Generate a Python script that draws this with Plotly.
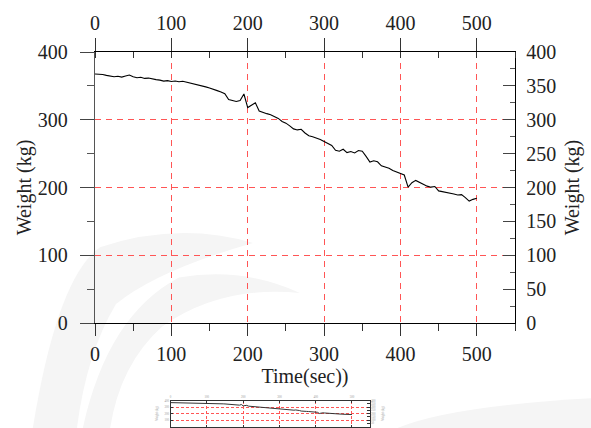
import plotly.graph_objects as go

# ---- data ----
time_s = list(range(0, 505, 5))
weight_kg = [
    367.5, 367.3, 366.8, 365.5, 364.8, 363.5, 364.2, 363.0, 364.5, 366.0,
    363.5, 362.0, 362.8, 361.0, 361.5, 360.0, 359.2, 358.5, 357.0, 357.8,
    356.5, 357.2, 356.0, 356.8, 355.5, 354.8, 353.0, 351.5, 350.0, 348.5,
    347.0, 345.5, 343.0, 341.0, 338.5, 330.0, 328.5, 327.0, 328.5, 338.0,
    318.0, 322.0, 325.0, 313.0, 310.5, 309.0, 307.5, 305.0, 302.0, 297.5,
    295.0, 291.0, 286.5, 285.0, 286.0, 280.5, 276.5, 275.0, 273.5, 271.0,
    268.0, 265.0, 262.0, 255.0, 253.5, 256.5, 251.5, 253.0, 251.0, 254.5,
    253.5, 246.0, 237.5, 239.5, 238.0, 232.0, 230.5, 228.5, 225.0, 223.0,
    221.0, 218.5, 200.5, 207.0, 210.5, 207.5, 204.5, 202.0, 200.5, 201.5,
    195.0, 194.0, 193.5, 191.5, 190.5, 189.0, 189.5, 185.0, 180.0, 182.5,
    184.0,
]
x_ticks = [0, 100, 200, 300, 400, 500]
left_ticks = [0, 100, 200, 300, 400]
right_ticks = [0, 50, 100, 150, 200, 250, 300, 350, 400]
x_title = "Time(sec))"
y_title = "Weight (kg)"

FONT = "Liberation Serif"
TXT = "#222222"
GRID = "#ff5555"
X_RANGE = [0, 550]
Y_RANGE = [0, 400]

fig = go.Figure()
fig.add_trace(go.Scatter(x=time_s, y=weight_kg, mode="lines",
                         line=dict(color="black", width=1.1),
                         xaxis="x", yaxis="y", showlegend=False, hoverinfo="skip"))
# invisible copy so the top / right axes are drawn
fig.add_trace(go.Scatter(x=time_s, y=weight_kg, mode="lines",
                         line=dict(color="rgba(0,0,0,0)", width=0),
                         xaxis="x2", yaxis="y2", showlegend=False, hoverinfo="skip"))
# small overview thumbnail below the chart
fig.add_trace(go.Scatter(x=time_s, y=weight_kg, mode="lines",
                         line=dict(color="#333333", width=1),
                         xaxis="x3", yaxis="y3", showlegend=False, hoverinfo="skip"))
fig.add_trace(go.Scatter(x=time_s, y=weight_kg, mode="lines",
                         line=dict(color="rgba(0,0,0,0)", width=0),
                         xaxis="x3", yaxis="y4", showlegend=False, hoverinfo="skip"))

main_dom = [105 / 376, 1]

# faint background watermark swooshes
wm = [
    "M -0.148,0 Q -0.09,0.40 0.012,0.481 Q 0.20,0.55 0.376,0.492 "
    "Q 0.15,0.42 0.05,0.33 Q -0.02,0.20 -0.043,0 Z",
    "M -0.029,0 Q 0.03,0.30 0.20,0.40 Q 0.35,0.43 0.488,0.359 "
    "Q 0.30,0.38 0.16,0.27 Q 0.06,0.17 0.036,0 Z",
    "M 0.72,0 Q 0.85,0.06 1.20,0.08 L 1.20,0 Z",
]
shapes = [dict(type="path", path=p, xref="paper", yref="paper",
               fillcolor="#f5f5f5", line=dict(width=0), layer="below")
          for p in wm]

fig.update_layout(
    width=591, height=428,
    margin=dict(l=95, r=76, t=52, b=0),
    paper_bgcolor="white", plot_bgcolor="rgba(0,0,0,0)",
    font=dict(family=FONT, size=20, color=TXT),
    shapes=shapes,
    xaxis=dict(domain=[0, 1], anchor="y", range=X_RANGE, tickvals=x_ticks,
               showgrid=True, gridcolor=GRID, griddash="6px,5px", gridwidth=1.3,
               zeroline=False, showline=True, linecolor="black", linewidth=1.3,
               ticks="outside", ticklen=12, tickcolor="#333", tickwidth=1.3,
               minor=dict(dtick=50, tick0=50, ticks="outside", ticklen=7,
                          tickcolor="#333", showgrid=False),
               tickfont=dict(size=20), ticklabelstandoff=1,
               title=dict(text=x_title, standoff=2, font=dict(size=20)),
               automargin=False),
    xaxis2=dict(overlaying="x", side="top", anchor="y", range=X_RANGE,
                tickvals=x_ticks, showgrid=False, zeroline=False,
                showline=True, linecolor="black", linewidth=1.3,
                ticks="outside", ticklen=13, tickcolor="#333", tickwidth=1.3,
                minor=dict(dtick=50, tick0=50, ticks="inside", ticklen=6,
                           tickcolor="#333", showgrid=False),
                tickfont=dict(size=20), automargin=False),
    yaxis=dict(domain=main_dom, anchor="x", range=Y_RANGE, tickvals=left_ticks,
               showgrid=True, gridcolor=GRID, griddash="6px,5px", gridwidth=1.3,
               zeroline=False, showline=True, linecolor="#555", linewidth=1.3,
               ticks="outside", ticklen=14, tickcolor="#444", tickwidth=1.3,
               minor=dict(dtick=50, tick0=50, ticks="outside", ticklen=7,
                          tickcolor="#555", showgrid=False),
               tickfont=dict(size=20), ticklabelstandoff=8,
               title=dict(text=y_title, standoff=0, font=dict(size=20)),
               automargin=False),
    yaxis2=dict(overlaying="y", side="right", anchor="x", range=Y_RANGE,
                tickvals=right_ticks, showgrid=False, zeroline=False,
                showline=True, linecolor="black", linewidth=1.3,
                ticks="inside", ticklen=12, tickcolor="#444", tickwidth=1.3,
                minor=dict(dtick=25, tick0=25, ticks="inside", ticklen=5,
                           tickcolor="#555", showgrid=False),
                tickfont=dict(size=20), ticklabelstandoff=6,
                title=dict(text=y_title, standoff=9, font=dict(size=20)),
                automargin=False),
    # thumbnail axes
    xaxis3=dict(domain=[0.18, 0.655], anchor="y3", side="top", range=X_RANGE,
                tickvals=x_ticks, showgrid=True, gridcolor=GRID,
                griddash="3px,2px", gridwidth=1, zeroline=False,
                showline=True, linecolor="#333", linewidth=1, mirror="ticks",
                ticks="inside", ticklen=2, tickcolor="#333",
                tickfont=dict(size=3, color="#999"), automargin=False),
    yaxis3=dict(domain=[1.5 / 376, 27.5 / 376], anchor="x3", range=Y_RANGE,
                tickvals=left_ticks, showgrid=True, gridcolor=GRID,
                griddash="3px,2px", gridwidth=1, zeroline=False,
                showline=True, linecolor="#333", linewidth=1, mirror="ticks",
                ticks="inside", ticklen=2, tickcolor="#333",
                tickfont=dict(size=3, color="#999"),
                title=dict(text=y_title, font=dict(size=3, color="#999"), standoff=6),
                automargin=False),
    yaxis4=dict(overlaying="y3", side="right", anchor="x3", range=Y_RANGE,
                tickvals=right_ticks, showgrid=False, zeroline=False,
                ticks="inside", ticklen=3, tickcolor="#333",
                tickfont=dict(size=3, color="#999"),
                title=dict(text=y_title, font=dict(size=3, color="#999"), standoff=6),
                automargin=False),
)

fig.write_html("out.html")
